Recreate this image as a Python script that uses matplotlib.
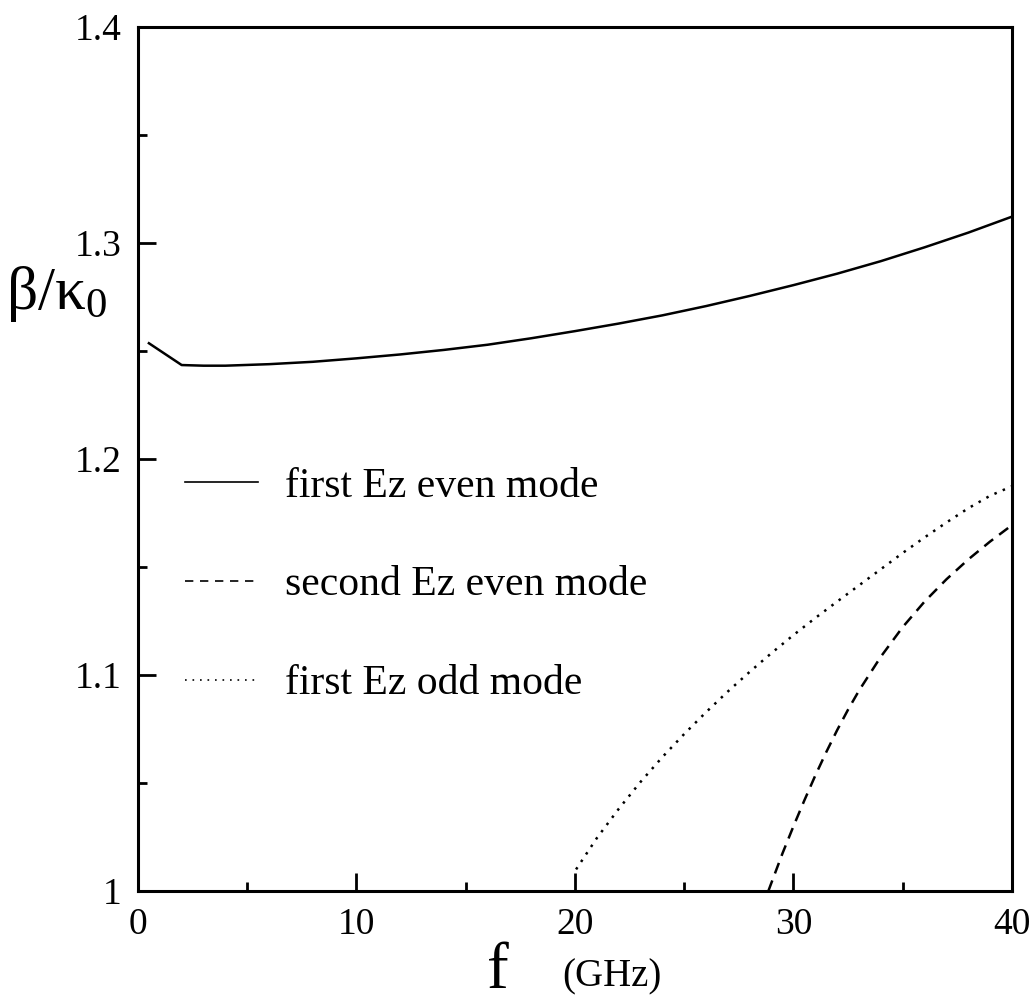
import numpy as np
import matplotlib
matplotlib.use("Agg")
import matplotlib.pyplot as plt
from matplotlib.lines import Line2D

plt.rcParams['font.family'] = ['Liberation Serif', 'DejaVu Serif']
plt.rcParams['mathtext.fontset'] = 'custom'
plt.rcParams['mathtext.rm'] = 'Liberation Serif'
plt.rcParams['mathtext.it'] = 'Liberation Serif:italic'

# first Ez even mode
f_even1 = [0.5, 2.0, 3, 4, 6, 8, 10, 12, 14, 16, 18, 20, 22, 24, 26, 28, 30, 32, 34, 36, 38, 40]
b_even1 = [1.2536, 1.2435, 1.2432, 1.2432, 1.2439, 1.2450, 1.2466, 1.2484, 1.2505, 1.2529,
           1.2559, 1.2592, 1.2627, 1.2665, 1.2708, 1.2755, 1.2805, 1.2858, 1.2916, 1.2980,
           1.3048, 1.3122]

# second Ez even mode
f_even2 = [28.85, 29.5, 30, 30.5, 31, 31.5, 32, 32.5, 33, 34, 35, 36, 37, 38, 39, 40]
b_even2 = [1.000, 1.0175, 1.030, 1.042, 1.0535, 1.0643, 1.0745, 1.084, 1.0928, 1.1085,
           1.1222, 1.134, 1.1443, 1.1535, 1.1618, 1.1694]

# first Ez odd mode
f_odd1 = [20.05, 21, 22, 23, 24, 25, 26, 27, 28, 29, 30, 31, 32, 33, 34, 35, 36, 37, 38, 39, 40]
b_odd1 = [1.010, 1.0245, 1.038, 1.0505, 1.062, 1.0727, 1.0828, 1.0924, 1.1015, 1.1102,
          1.1185, 1.1264, 1.134, 1.1415, 1.149, 1.1565, 1.1637, 1.1706, 1.1772, 1.1830, 1.1874]

labels = ["first Ez even mode", "second Ez even mode", "first Ez odd mode"]

fig = plt.figure(figsize=(10.32, 10), dpi=100)
ax = fig.add_axes([0.1337, 0.109, 0.8469, 0.864])

lw = 1.8
ax.plot(f_even1, b_even1, color='black', lw=lw)
ax.plot(f_even2, b_even2, color='black', lw=lw, linestyle=(0, (4.5, 3)))
ax.plot(f_odd1, b_odd1, color='black', lw=lw, linestyle=(0, (1, 2.6)))

ax.set_xlim(0, 40)
ax.set_ylim(1.0, 1.4)
ax.set_xticks([0, 10, 20, 30, 40])
ax.set_xticks([5, 15, 25, 35], minor=True)
ax.set_yticks([1.0, 1.1, 1.2, 1.3, 1.4])
ax.set_yticklabels(["1", "1.1", "1.2", "1.3", "1.4"])
ax.set_yticks(np.arange(1.05, 1.4, 0.1), minor=True)
ax.tick_params(which='both', direction='in', top=False, right=False,
               labelsize=27, width=2, pad=12)
ax.tick_params(which='major', length=13)
ax.tick_params(which='minor', length=6.5)
for s in ax.spines.values():
    s.set_linewidth(2.2)

handles = [Line2D([], [], color='black', lw=1.2),
           Line2D([], [], color='black', lw=1.2, linestyle=(0, (5, 4))),
           Line2D([], [], color='black', lw=1.2, linestyle=(0, (1, 3.5)))]
ax.legend(handles, labels, frameon=False, fontsize=30, loc='upper left',
          bbox_to_anchor=(0.035, 0.51), handlelength=1.75, handletextpad=0.65,
          labelspacing=1.45, borderaxespad=0)

fig.text(0.006, 0.706, r'$\mathrm{β/κ}_{\mathrm{0}}$', fontsize=44, va='center', ha='left')
fig.text(0.472, 0.012, 'f', fontsize=47, va='baseline', ha='left')
fig.text(0.545, 0.014, '(GHz)', fontsize=28, va='baseline', ha='left')

fig.savefig("out.png", dpi=100)
